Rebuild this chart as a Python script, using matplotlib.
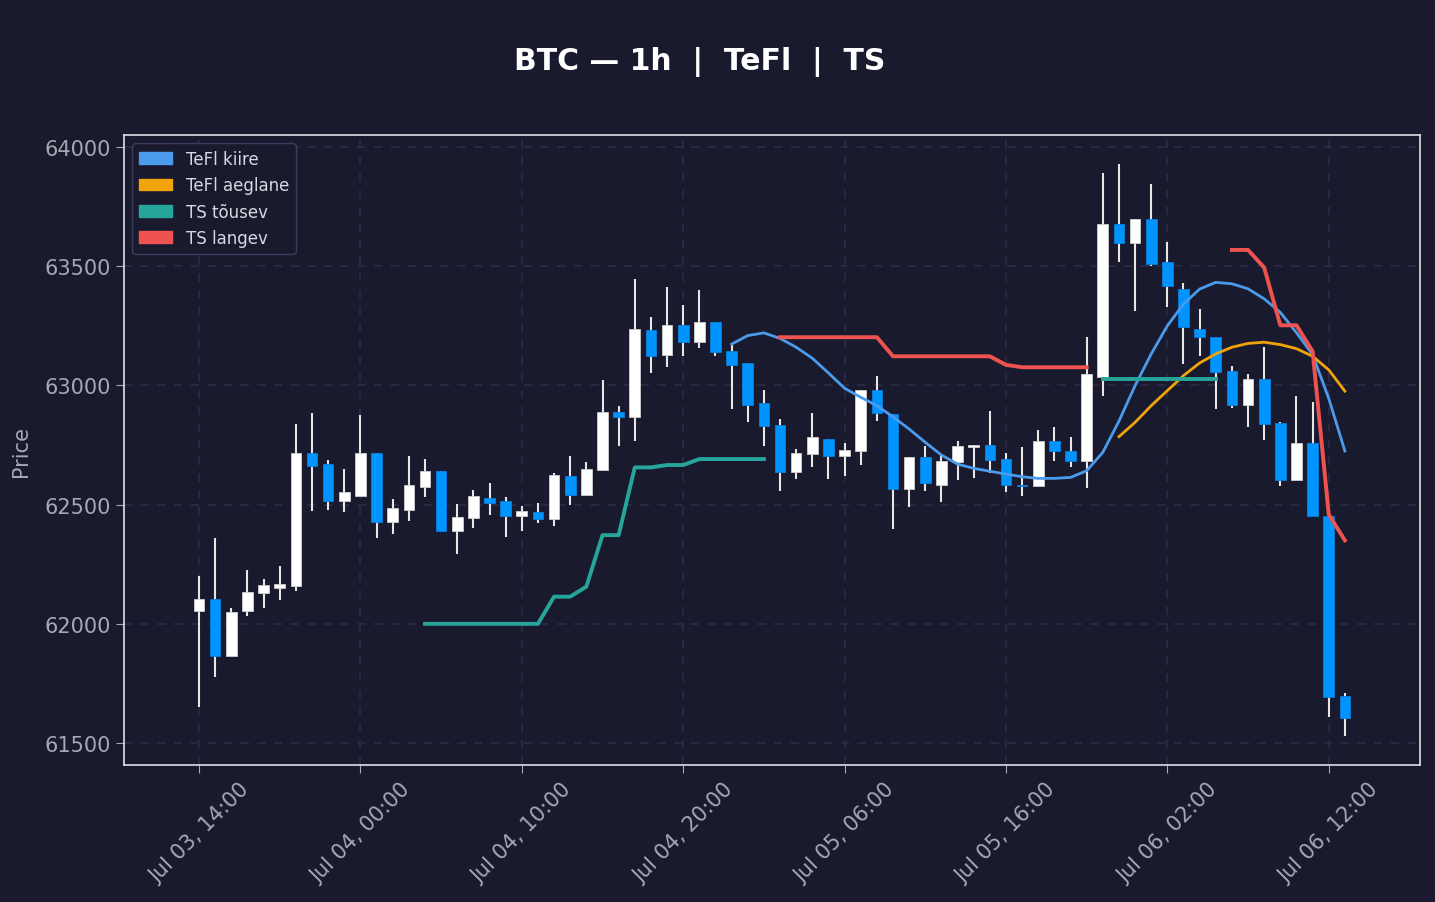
import numpy as np
import pandas as pd
import matplotlib
matplotlib.use("Agg")
import matplotlib.pyplot as plt
import matplotlib.dates as mdates
from matplotlib.patches import Patch

# tunnikünlad, Jul 03 14:00 ... Jul 06 13:00
times = pd.date_range("2024-07-03 14:00", periods=72, freq="h")

opens = [62052, 62104, 61864, 62052, 62128, 62152, 62160, 62716, 62670, 62516,
         62537, 62716, 62428, 62479, 62575, 62640, 62391, 62443, 62526, 62514,
         62451, 62468, 62438, 62621, 62539, 62644, 62887, 62866, 63231, 63126,
         63252, 63181, 63265, 63143, 63093, 62925, 62834, 62635, 62711, 62774,
         62703, 62724, 62981, 62879, 62564, 62698, 62581, 62677, 62741, 62749,
         62690, 62583, 62577, 62765, 62724, 62682, 63034, 63676, 63596, 63697,
         63517, 63403, 63235, 63202, 63061, 62916, 63028, 62843, 62602, 62760,
         62452, 61698]
highs = [62202, 62360, 62066, 62226, 62188, 62241, 62838, 62884, 62687, 62649,
         62876, 62716, 62523, 62704, 62691, 62640, 62503, 62561, 62591, 62532,
         62494, 62505, 62631, 62704, 62679, 63023, 62914, 63446, 63286, 63412,
         63337, 63400, 63265, 63169, 63093, 62981, 62859, 62733, 62884, 62774,
         62758, 62981, 63038, 62879, 62698, 62747, 62712, 62766, 62749, 62894,
         62716, 62743, 62813, 62826, 62785, 63204, 63891, 63929, 63697, 63845,
         63600, 63430, 63320, 63202, 63082, 63048, 63163, 62848, 62957, 62932,
         62452, 61708]
lows = [61652, 61778, 61864, 62034, 62066, 62101, 62136, 62474, 62477, 62470,
        62535, 62360, 62377, 62432, 62533, 62388, 62294, 62403, 62458, 62365,
        62391, 62424, 62411, 62500, 62539, 62644, 62744, 62768, 63051, 63079,
        63125, 63158, 63125, 62901, 62848, 62744, 62558, 62607, 62659, 62607,
        62621, 62667, 62852, 62398, 62488, 62558, 62512, 62604, 62613, 62631,
        62554, 62537, 62577, 62684, 62656, 62569, 62954, 63519, 63313, 63502,
        63330, 63091, 63125, 62899, 62906, 62824, 62770, 62576, 62602, 62452,
        61611, 61528]
closes = [62104, 61866, 62048, 62132, 62161, 62166, 62716, 62663, 62516, 62552,
          62716, 62428, 62486, 62582, 62641, 62391, 62448, 62535, 62505, 62451,
          62474, 62438, 62623, 62539, 62648, 62887, 62866, 63235, 63125, 63252,
          63181, 63266, 63139, 63087, 62919, 62828, 62636, 62716, 62784, 62703,
          62729, 62981, 62883, 62564, 62698, 62590, 62682, 62745, 62749, 62685,
          62581, 62579, 62765, 62724, 62682, 63048, 63676, 63596, 63697, 63511,
          63416, 63244, 63202, 63055, 62916, 63028, 62837, 62602, 62760, 62452,
          61692, 61606]

# TeFl kiire / aeglane
tefl_fast_times = times[33:]
tefl_fast = [63173, 63209, 63220, 63197, 63160, 63114, 63052, 62988, 62950, 62915,
             62868, 62817, 62761, 62708, 62670, 62652, 62640, 62628, 62617, 62610,
             62610, 62614, 62642, 62719, 62850, 62999, 63132, 63250, 63341, 63404,
             63432, 63426, 63405, 63363, 63306, 63221, 63129, 62945, 62725]
tefl_slow_times = times[57:]
tefl_slow = [62785, 62845, 62915, 62978, 63041, 63094, 63132, 63160, 63176, 63181,
             63171, 63154, 63122, 63065, 62976]

# TS tõusev / langev (kaks lõiku kumbki)
ts_up_a_times = times[14:36]
ts_up_a = [62000, 62000, 62000, 62000, 62000, 62000, 62000, 62000, 62114, 62114,
           62156, 62372, 62372, 62656, 62656, 62666, 62666, 62691, 62691, 62691,
           62691, 62691]
ts_up_b_times = times[56:64]
ts_up_b = [63025, 63025, 63025, 63025, 63025, 63025, 63025, 63025]
ts_down_a_times = times[36:56]
ts_down_a = [63202, 63202, 63202, 63202, 63202, 63202, 63202, 63122, 63122, 63122,
             63122, 63122, 63122, 63122, 63086, 63076, 63076, 63076, 63076, 63076]
ts_down_b_times = times[64:]
ts_down_b = [63568, 63568, 63494, 63252, 63252, 63143, 62459, 62350]

bg = "#1a1a2e"
up_col = "#ffffff"
down_col = "#0094ff"
fast_col = "#4a9bec"
slow_col = "#f0a30a"
ts_up_col = "#26a69a"
ts_down_col = "#ef5350"
txt_col = "#a8a8b2"

fig = plt.figure(figsize=(14.35, 9.03), dpi=100, facecolor=bg)
ax = fig.add_axes([0.0864, 0.1517, 0.9031, 0.6977])
ax.set_facecolor(bg)

x = mdates.date2num(times)
o = np.array(opens)
c = np.array(closes)
up = c >= o
w = 0.66 / 24

ax.vlines(x, lows, highs, color="#e6e6e6", linewidth=1.5, zorder=2)
body_h = np.maximum(np.abs(c - o), 4)
ax.bar(x[up], body_h[up], bottom=o[up], width=w, color=up_col,
       edgecolor="#d0d0d0", linewidth=0.6, zorder=3)
ax.bar(x[~up], body_h[~up], bottom=c[~up], width=w, color=down_col,
       edgecolor="#0a7fe0", linewidth=0.6, zorder=3)

ax.plot(tefl_fast_times, tefl_fast, color=fast_col, linewidth=2, zorder=4)
ax.plot(tefl_slow_times, tefl_slow, color=slow_col, linewidth=2, zorder=4)
ax.plot(ts_up_a_times, ts_up_a, color=ts_up_col, linewidth=2.8, zorder=4)
ax.plot(ts_up_b_times, ts_up_b, color=ts_up_col, linewidth=2.8, zorder=4)
ax.plot(ts_down_a_times, ts_down_a, color=ts_down_col, linewidth=2.8, zorder=4)
ax.plot(ts_down_b_times, ts_down_b, color=ts_down_col, linewidth=2.8, zorder=4)

hour = 1 / 24
ax.set_xlim(x[0] - 4.65 * hour, x[0] + 75.65 * hour)
ax.set_ylim(61408, 64050)
ax.set_yticks([61500, 62000, 62500, 63000, 63500, 64000])
ax.set_xticks(x[::10])
ax.xaxis.set_major_formatter(mdates.DateFormatter("%b %d, %H:%M"))
plt.setp(ax.get_xticklabels(), rotation=45)

ax.tick_params(colors=txt_col, labelsize=15, length=6)
ax.tick_params(axis="x", pad=4)
for s in ax.spines.values():
    s.set_color("#e0e0e8")
    s.set_linewidth(1.2)
ax.grid(True, linestyle=(0, (5, 5)), color="#2c2c4a", linewidth=1.2, zorder=0)
ax.set_axisbelow(True)
ax.set_ylabel("Price", color=txt_col, fontsize=15, labelpad=10)

handles = [Patch(color=fast_col, label="TeFl kiire"),
           Patch(color=slow_col, label="TeFl aeglane"),
           Patch(color=ts_up_col, label="TS tõusev"),
           Patch(color=ts_down_col, label="TS langev")]
leg = ax.legend(handles=handles, loc="upper left", fontsize=12, facecolor=bg,
                edgecolor="#3c3c5e", labelcolor="#d8d8e0", framealpha=1)

fig.text(0.4875, 0.931, "BTC — 1h  |  TeFl  |  TS", color="white", fontsize=21.5,
         fontweight="bold", ha="center", va="center")

fig.savefig("out.png", dpi=100, facecolor=bg)
